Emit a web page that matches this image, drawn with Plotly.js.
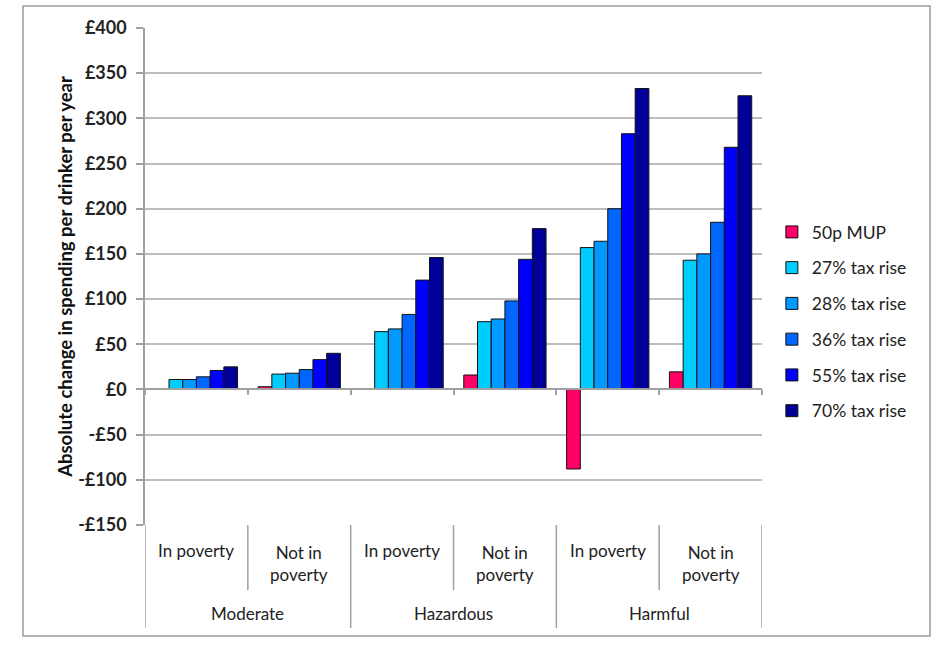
<!DOCTYPE html>
<html>
<head>
<meta charset="utf-8">
<script src="https://cdn.plot.ly/plotly-3.0.1.min.js"></script>
<style>html,body{margin:0;padding:0;background:#fff;}#chart{width:940px;height:650px;}</style>
</head>
<body>
<div id="chart"></div>
<script>
// ---- data ----
const groups = ['Moderate', 'Hazardous', 'Harmful'];
const subgroups = ['In poverty', 'Not in poverty'];
const subgroupLabels = ['In poverty', 'Not in<br>poverty'];
const categories = ['Moderate – In poverty', 'Moderate – Not in poverty',
                    'Hazardous – In poverty', 'Hazardous – Not in poverty',
                    'Harmful – In poverty', 'Harmful – Not in poverty'];
const seriesNames = ['50p MUP', '27% tax rise', '28% tax rise', '36% tax rise', '55% tax rise', '70% tax rise'];
const mup50p  = [0.5, 3, 1, 16, -88, 19.5];
const tax27   = [11, 17, 64, 75, 157, 143];
const tax28   = [11, 18, 67, 78, 164, 150];
const tax36   = [14, 22, 83, 98, 200, 185];
const tax55   = [21, 33, 121, 144, 283, 268];
const tax70   = [25, 40, 146, 178, 333, 325];
const tickValues = [-150, -100, -50, 0, 50, 100, 150, 200, 250, 300, 350, 400];
const tickLabels = ['-£150', '-£100', '-£50', '£0', '£50', '£100', '£150', '£200', '£250', '£300', '£350', '£400'];
const yTitle = 'Absolute change in spending per drinker per year';

// ---- styles ----
const seriesValues = [mup50p, tax27, tax28, tax36, tax55, tax70];
const colors = ['#FF0066', '#00CCFF', '#0099FF', '#0066FF', '#0000FF', '#000099'];
const FONT = 'Lato, "Liberation Sans", sans-serif';
const GRID = '#bdbdbd';
const AXIS = '#a0a0a0';

const traces = seriesNames.map((name, i) => ({
  type: 'bar',
  name: name,
  x: categories,
  y: seriesValues[i],
  legendgroup: 'g' + i,
  marker: {color: colors[i], line: {color: '#111', width: 1}},
  hoverinfo: 'name+y'
}));

const yMin = -150, yMax = 400;
const zeroPos = (0 - yMin) / (yMax - yMin);

const annotations = [];
const shapes = [];
// inner labels
categories.forEach((c, i) => {
  const lab = subgroupLabels[i % 2];
  const twoLine = lab.indexOf('<br>') >= 0;
  annotations.push({
    xref: 'x', yref: 'paper', x: i, y: twoLine ? -0.0765 : -0.0523,
    text: lab, showarrow: false, xanchor: 'center', yanchor: 'middle',
    font: {family: FONT, size: 17, color: '#222'}
  });
});
// outer labels
groups.forEach((g, j) => {
  annotations.push({
    xref: 'x', yref: 'paper', x: 2 * j + 0.5, y: -0.179,
    text: g, showarrow: false, xanchor: 'center', yanchor: 'middle',
    font: {family: FONT, size: 17, color: '#222'}
  });
});
// outer dividers
for (let k = 0; k <= groups.length; k++) {
  shapes.push({type: 'line', xref: 'x', yref: 'paper', x0: 2 * k - 0.5, x1: 2 * k - 0.5,
               y0: 0, y1: -0.2072, line: {color: AXIS, width: 1.5}});
}
// inner dividers
for (let k = 0; k < groups.length; k++) {
  shapes.push({type: 'line', xref: 'x', yref: 'paper', x0: 2 * k + 0.5, x1: 2 * k + 0.5,
               y0: 0, y1: -0.1308, line: {color: AXIS, width: 1.5}});
}
// outer frame
shapes.push({type: 'rect', xref: 'paper', yref: 'paper', x0: -0.1977, x1: 1.2723, y0: -0.2233, y1: 1.0443,
             line: {color: '#9a9a9a', width: 1.5}, layer: 'below'});

const layout = {
  width: 940, height: 650,
  margin: {l: 145, r: 178, t: 28, b: 125, pad: 0},
  paper_bgcolor: '#fff', plot_bgcolor: '#fff',
  font: {family: FONT, color: '#222'},
  barmode: 'group', bargap: 0.2, bargroupgap: 0,
  showlegend: true,
  legend: {x: 1.016, xanchor: 'left', y: 0.6257, yanchor: 'top',
           font: {family: FONT, size: 17.5, color: '#222'},
           traceorder: 'grouped', tracegroupgap: 10, bgcolor: 'rgba(0,0,0,0)'},
  xaxis: {type: 'category', categoryorder: 'array', categoryarray: categories,
          range: [-0.5, 5.5], anchor: 'free', position: zeroPos,
          showline: true, linecolor: AXIS, linewidth: 1.5,
          ticks: 'outside', tickson: 'boundaries', ticklen: 5, tickcolor: AXIS, tickwidth: 1.5,
          showticklabels: false, showgrid: false, zeroline: false, fixedrange: true},
  yaxis: {range: [yMin, yMax], tickmode: 'array', tickvals: tickValues, ticktext: tickLabels,
          showgrid: true, gridcolor: GRID, gridwidth: 1.5, zeroline: false,
          showline: true, linecolor: AXIS, linewidth: 1.5,
          ticks: 'outside', ticklen: 7, tickcolor: AXIS, tickwidth: 1.5,
          ticklabelstandoff: 6,
          tickfont: {family: FONT, size: 18, color: '#222', weight: 'bold'},
          title: {text: yTitle, standoff: 1, font: {family: FONT, size: 18.5, color: '#111', weight: 'bold'}},
          automargin: false, fixedrange: true},
  annotations: annotations,
  shapes: shapes
};

Plotly.newPlot('chart', traces, layout, {displayModeBar: false, staticPlot: false});
</script>
</body>
</html>
